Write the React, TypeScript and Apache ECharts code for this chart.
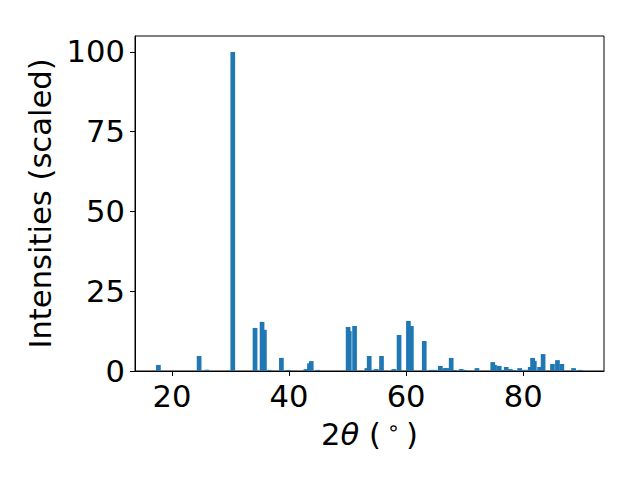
import React, { useEffect, useRef } from "react";
import * as echarts from "echarts";

const twoTheta = [
  17.7, 24.65, 26.0, 30.4, 34.2, 35.4, 35.8, 36.6, 38.7, 39.9,
  42.9, 43.5, 43.8, 44.9, 50.1, 50.3, 51.2, 53.3, 53.7, 54.3,
  54.9, 55.8, 57.9, 58.8, 60.4, 60.9, 63.1, 64.3, 65.0, 65.85,
  66.6, 67.0, 67.7, 68.2, 69.4, 69.9, 72.1, 74.8, 75.1, 75.9,
  76.4, 77.1, 77.8, 78.4, 79.4, 80.0, 80.5, 81.2, 81.6, 81.9,
  82.8, 83.4, 85.0, 85.85, 86.6, 88.6, 89.7,
];
const intensities = [
  1.9, 4.7, 0.4, 100, 13.5, 15.4, 12.9, 0.35, 4.1, 0.35,
  0.6, 2.4, 3.1, 0.35, 13.8, 12.5, 14.1, 0.9, 4.7, 0.35,
  0.6, 4.7, 0.6, 11.3, 15.7, 14.1, 9.4, 0.35, 0.35, 1.6,
  0.9, 0.9, 4.1, 0.35, 0.6, 0.35, 0.9, 2.8, 1.9, 1.6,
  0.35, 1.25, 0.6, 0.35, 0.9, 0.35, 0.35, 1.25, 4.1, 3.2,
  1.25, 5.3, 2.2, 3.4, 2.2, 0.9, 0.35,
];
const xTicks = [20, 40, 60, 80];
const yTicks = [0, 25, 50, 75, 100];

export default function App() {
  const ref = useRef<HTMLDivElement>(null);
  useEffect(() => {
    if (!ref.current) return;
    const chart = echarts.init(ref.current, null, { renderer: "svg" });
    const font = "DejaVu Sans";
    chart.setOption({
      animation: false,
      backgroundColor: "#fff",
      grid: {
        left: 135,
        right: 36,
        top: 36,
        bottom: 109,
        show: true,
        borderColor: "#000",
        borderWidth: 1,
        backgroundColor: "transparent",
      },
      xAxis: {
        type: "value",
        min: 13.7,
        max: 93.8,
        name: "{n|2}{i|θ}{n| (}{s|∘}{n|)}",
        nameLocation: "middle",
        nameGap: 46,
        nameTextStyle: {
          rich: {
            n: { fontFamily: font, fontSize: 30.6, color: "#000" },
            i: { fontFamily: font, fontSize: 30.6, fontStyle: "italic", color: "#000" },
            s: { fontFamily: font, fontSize: 21, color: "#000", verticalAlign: "top", padding: [0, 6, 14, 6] },
          },
        },
        axisLine: { show: true, onZero: false, lineStyle: { color: "#000", width: 1 } },
        axisTick: { show: true, length: 5, lineStyle: { color: "#000" }, customValues: xTicks },
        axisLabel: { margin: 10, fontFamily: font, fontSize: 30.6, color: "#000", customValues: xTicks },
        splitLine: { show: false },
      },
      yAxis: {
        type: "value",
        min: 0,
        max: 105,
        name: "Intensities (scaled)",
        nameLocation: "middle",
        nameGap: 75,
        nameRotate: 90,
        nameTextStyle: { fontFamily: font, fontSize: 30.6, color: "#000" },
        axisLine: { show: true, lineStyle: { color: "#000", width: 1 } },
        axisTick: { show: true, length: 5, lineStyle: { color: "#000" }, customValues: yTicks },
        axisLabel: { margin: 10, fontFamily: font, fontSize: 30.6, color: "#000", customValues: yTicks },
        splitLine: { show: false },
      },
      series: [
        {
          type: "bar",
          data: twoTheta.map((x, i) => [x, intensities[i]]),
          barWidth: 4.7,
          itemStyle: { color: "#1f77b4" },
        },
      ],
    });
    return () => chart.dispose();
  }, []);
  return <div ref={ref} style={{ width: 640, height: 480, position: "absolute", left: 0, top: 0 }} />;
}
